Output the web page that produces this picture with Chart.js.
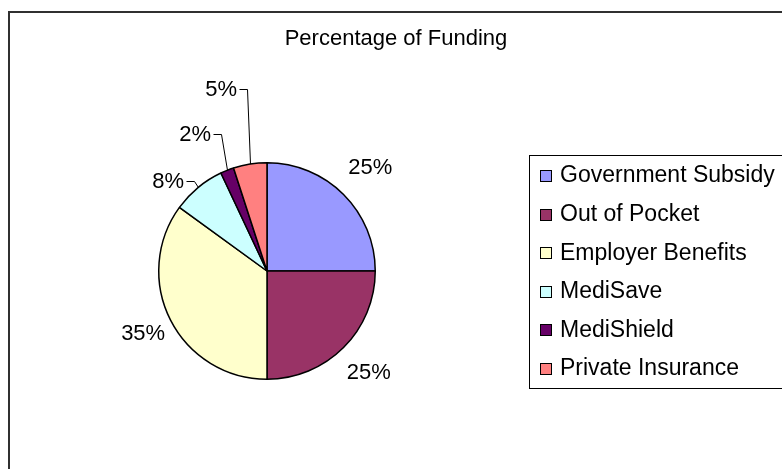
<!DOCTYPE html>
<html><head><meta charset="utf-8">
<script src="https://cdn.jsdelivr.net/npm/chart.js@4.4.1/dist/chart.umd.min.js"></script>
<style>html,body{margin:0;padding:0;background:#fff;overflow:hidden}#wrap{width:782px;height:469px}</style>
</head><body><div id="wrap"><canvas id="c" width="782" height="469"></canvas></div>
<script>
const chartTitle = "Percentage of Funding";
const categories = ["Government Subsidy", "Out of Pocket", "Employer Benefits", "MediSave", "MediShield", "Private Insurance"];
const values = [25, 25, 35, 8, 2, 5];
const sliceColors = ["#9999FF", "#993366", "#FFFFCC", "#CCFFFF", "#660066", "#FF8080"];

const FONT = '"Liberation Sans", Arial, Helvetica, sans-serif';
// label placement style per slice: radial distance, or leader elbow offset from arc midpoint
const labelLayout = [{r: 146}, {r: 144}, {r: 139}, {lead: [-4, -7]}, {lead: [-6, -36]}, {lead: [-3, -75]}];

const excelPlugin = {
  id: 'excelLook',
  beforeDraw(chart) {
    const ctx = chart.ctx;
    ctx.save();
    ctx.fillStyle = '#fff';
    ctx.fillRect(0, 0, chart.width, chart.height);
    ctx.strokeStyle = '#303030';
    ctx.lineWidth = 2;
    ctx.strokeRect(9, 12, chart.width + 20, chart.height + 20);
    ctx.fillStyle = '#000';
    ctx.font = '22px ' + FONT;
    ctx.textAlign = 'center';
    ctx.textBaseline = 'alphabetic';
    ctx.fillText(chartTitle, 396, 45);
    ctx.restore();
  },
  afterDraw(chart) {
    const ctx = chart.ctx;
    const meta = chart.getDatasetMeta(0);
    const total = values.reduce((a, b) => a + b, 0);
    ctx.save();
    ctx.font = '22px ' + FONT;
    ctx.fillStyle = '#000';
    ctx.strokeStyle = '#000';
    ctx.lineWidth = 1;
    meta.data.forEach((arc, i) => {
      const p = arc.getProps(['x', 'y', 'startAngle', 'endAngle', 'outerRadius'], true);
      const mid = (p.startAngle + p.endAngle) / 2;
      const dx = Math.cos(mid), dy = Math.sin(mid);
      const txt = Math.round(values[i] / total * 100) + '%';
      const lay = labelLayout[i];
      if (lay.r) {
        ctx.textAlign = 'center';
        ctx.textBaseline = 'middle';
        ctx.fillText(txt, p.x + dx * lay.r, p.y + dy * lay.r);
      } else {
        const ax = p.x + dx * p.outerRadius, ay = p.y + dy * p.outerRadius;
        const ex = ax + lay.lead[0], ey = ay + lay.lead[1];
        ctx.beginPath();
        ctx.moveTo(Math.round(ax) + 0.5, ay);
        ctx.lineTo(Math.round(ex) + 0.5, Math.round(ey) + 0.5);
        ctx.lineTo(Math.round(ex) - 7.5, Math.round(ey) + 0.5);
        ctx.stroke();
        ctx.textAlign = 'right';
        ctx.textBaseline = 'middle';
        ctx.fillText(txt, Math.round(ex) - 10, ey + 1);
      }
    });
    // legend
    ctx.lineWidth = 1;
    ctx.strokeStyle = '#000';
    ctx.strokeRect(529.5, 155.5, 400, 233);
    ctx.font = '23px ' + FONT;
    ctx.textAlign = 'left';
    ctx.textBaseline = 'middle';
    categories.forEach((name, i) => {
      const cy = 175 + i * 38.6;
      ctx.fillStyle = sliceColors[i];
      ctx.fillRect(540, Math.round(cy - 5), 11, 11);
      ctx.strokeRect(540.5, Math.round(cy - 5) + 0.5, 11, 11);
      ctx.fillStyle = '#000';
      ctx.fillText(name, 560, cy + 1);
    });
    ctx.restore();
  }
};

new Chart(document.getElementById('c'), {
  type: 'pie',
  data: {
    labels: categories,
    datasets: [{
      data: values,
      backgroundColor: sliceColors,
      borderColor: '#000',
      borderWidth: 1.5
    }]
  },
  options: {
    responsive: false,
    animation: false,
    devicePixelRatio: 1,
    layout: {padding: {left: 158, right: 406, top: 162, bottom: 89}},
    plugins: {legend: {display: false}, title: {display: false}, tooltip: {enabled: false}}
  },
  plugins: [excelPlugin]
});
</script>
</body></html>
